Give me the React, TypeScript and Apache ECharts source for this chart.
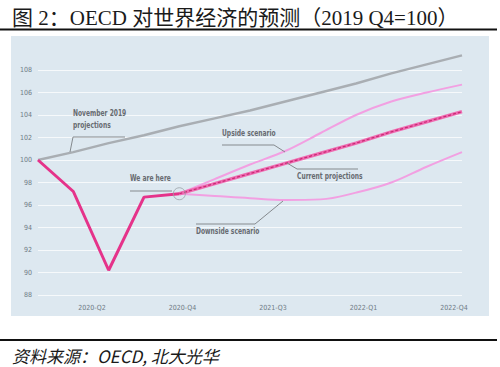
import React, { useEffect, useRef } from "react";
import * as echarts from "echarts";

const quarters = [
  "2019-Q4", "2020-Q1", "2020-Q2", "2020-Q3", "2020-Q4",
  "2021-Q1", "2021-Q2", "2021-Q3", "2021-Q4",
  "2022-Q1", "2022-Q2", "2022-Q3", "2022-Q4",
];
const tickLabels = ["2020-Q2", "2020-Q4", "2021-Q3", "2022-Q1", "2022-Q4"];

const nov2019 = [100, 100.7, 101.5, 102.2, 103.0, 103.7, 104.4, 105.2, 106.0, 106.8, 107.7, 108.5, 109.3];
const actual = [100, 97.2, 90.2, 96.7, 97.0, null, null, null, null, null, null, null, null];
const current = [null, null, null, null, 97.0, 97.9, 98.8, 99.7, 100.6, 101.5, 102.5, 103.4, 104.3];
const upside = [null, null, null, null, 97.0, 98.3, 99.6, 100.8, 102.4, 104.0, 105.2, 106.0, 106.7];
const downside = [null, null, null, null, 97.0, 96.8, 96.6, 96.45, 96.5, 97.1, 98.0, 99.4, 100.7];
const hereIndex = 4;
const hereValue = 97.0;

const titleText = "图 2：OECD 对世界经济的预测（2019 Q4=100）";
const sourceText = "资料来源：OECD, 北大光华";

const annoFont = "'DejaVu Sans Condensed', 'Roboto', sans-serif";
const annoColor = "#676b70";
const leader = "#858a8e";

export default function App() {
  const ref = useRef<HTMLDivElement>(null);
  useEffect(() => {
    if (!ref.current) return;
    const chart = echarts.init(ref.current, undefined, { renderer: "svg" });
    const anno = (x: number, y: number, text: string) => ({
      type: "text",
      x,
      y,
      scaleX: 0.7,
      style: {
        text,
        fill: annoColor,
        font: `bold 9.5px ${annoFont}`,
        lineHeight: 12,
        verticalAlign: "middle",
        align: "left",
      },
      z: 50,
    });
    const pl = (points: number[][]) => ({
      type: "polyline",
      shape: { points },
      style: { stroke: leader, lineWidth: 1, fill: "none" },
      z: 50,
    });
    chart.setOption({
      animation: false,
      backgroundColor: "#ffffff",
      grid: [
        { left: 38, right: 38, top: 70, bottom: 72 },
        { left: 92, right: 46, top: 70, bottom: 72 },
      ],
      xAxis: [
        {
          type: "category",
          data: quarters,
          boundaryGap: false,
          gridIndex: 0,
          axisLine: { show: false },
          axisTick: { show: false },
          axisLabel: { show: false },
          splitLine: { show: false },
        },
        {
          type: "category",
          data: tickLabels,
          boundaryGap: false,
          gridIndex: 1,
          axisLine: { show: false },
          axisTick: { show: false },
          axisLabel: { color: "#6f7b85", fontSize: 7, margin: 9, fontFamily: "DejaVu Sans Condensed, sans-serif" },
          splitLine: { show: false },
        },
      ],
      yAxis: [
        {
          type: "value",
          min: 88,
          max: 108,
          interval: 2,
          gridIndex: 0,
          axisLine: { show: false },
          axisTick: { show: false },
          axisLabel: { color: "#6f7b85", fontSize: 7, margin: 6, fontFamily: "DejaVu Sans Condensed, sans-serif" },
          splitLine: { lineStyle: { color: "#f6f9fb", width: 1 } },
        },
        { type: "value", gridIndex: 1, show: false, min: 88, max: 108 },
      ],
      series: [
        {
          name: "November 2019 projections",
          type: "line",
          data: nov2019,
          symbol: "none",
          clip: false,
          lineStyle: { color: "#a9aeb3", width: 2.5 },
          z: 2,
        },
        {
          name: "Upside scenario",
          type: "line",
          data: upside,
          symbol: "none",
          smooth: 0.3,
          lineStyle: { color: "#f2a0e2", width: 2 },
          z: 3,
        },
        {
          name: "Downside scenario",
          type: "line",
          data: downside,
          symbol: "none",
          smooth: 0.4,
          lineStyle: { color: "#f2a0e2", width: 2 },
          z: 3,
        },
        {
          name: "Current projections",
          type: "line",
          data: current,
          symbol: "none",
          lineStyle: { color: "#ef6cb2", width: 3.5 },
          z: 4,
        },
        {
          name: "Current projections dash",
          type: "line",
          data: current,
          symbol: "none",
          lineStyle: { color: "#c92a74", width: 1.3, type: [3, 2] },
          z: 5,
        },
        {
          name: "Actual",
          type: "line",
          data: actual,
          symbol: "none",
          lineStyle: { color: "#e5338a", width: 3 },
          z: 6,
        },
        {
          name: "We are here",
          type: "scatter",
          data: [[hereIndex, hereValue]],
          symbol: "circle",
          symbolSize: 12,
          itemStyle: { color: "rgba(255,255,255,0)", borderColor: "#9aa0a6", borderWidth: 1 },
          z: 7,
        },
      ],
      graphic: [
        {
          type: "rect",
          shape: { x: 11, y: 36, width: 478, height: 280 },
          style: { fill: "#dde8f0" },
          z: -100,
          silent: true,
        },
        {
          type: "text",
          x: 12,
          y: 18,
          style: {
            text: titleText,
            fill: "#1a1a1a",
            font: "21px 'Liberation Serif', 'Noto Sans CJK SC', serif",
            verticalAlign: "middle",
          },
        },
        {
          type: "rect",
          shape: { x: 0, y: 28.5, width: 497, height: 2 },
          style: { fill: "#111111" },
        },
        {
          type: "rect",
          shape: { x: 0, y: 339, width: 497, height: 2 },
          style: { fill: "#111111" },
        },
        {
          type: "text",
          x: 12,
          y: 355,
          style: {
            text: sourceText,
            fill: "#1a1a1a",
            font: "italic 17px 'Noto Sans CJK SC', sans-serif",
            verticalAlign: "middle",
          },
        },
        anno(73, 119, "November 2019\nprojections"),
        pl([[125, 137], [73, 137], [70, 152]]),
        anno(130, 178, "We are here"),
        pl([[130, 191], [172, 191]]),
        anno(222, 133, "Upside scenario"),
        pl([[222, 145], [274, 145], [285, 152]]),
        anno(297, 176, "Current projections"),
        pl([[287, 163], [297, 169], [358, 169]]),
        anno(196, 231, "Downside scenario"),
        pl([[196, 224], [255, 224], [283, 201]]),
      ],
    });
    return () => chart.dispose();
  }, []);
  return (
    <div
      ref={ref}
      style={{ position: "fixed", left: 0, top: 0, width: 500, height: 367 }}
    />
  );
}
